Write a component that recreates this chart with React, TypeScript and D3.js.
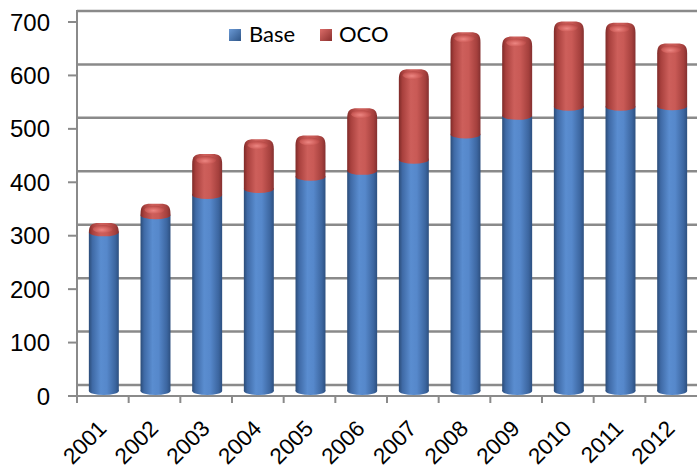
import React from "react";
import * as d3 from "d3";

// Fiscal years and budget authority (billions of dollars)
const years = ["2001", "2002", "2003", "2004", "2005", "2006", "2007", "2008", "2009", "2010", "2011", "2012"];
const baseValues = [297, 329, 367, 378, 401, 412, 433, 480, 515, 532, 532, 533];
const ocoValues = [8, 12, 67, 84, 68, 108, 160, 182, 139, 150, 148, 108];
const yTicks = [0, 100, 200, 300, 400, 500, 600, 700];
const seriesNames = ["Base", "OCO"];

const W = 697;
const H = 470;

// 3D look: back wall, bar depth and front axis are shifted vertically
const BAR_SHIFT = 6;
const FRONT_SHIFT = 11;

const x = d3.scaleBand<string>().domain(years).range([77, 697]).padding(0);
const yBack = d3.scaleLinear().domain([0, 700]).range([385, 11]);
const yBar = (v: number) => yBack(v) + BAR_SHIFT;
const yFront = (v: number) => yBack(v) + FRONT_SHIFT;

const BAR_FRAC = 0.58;
const RY = 4;

const GRID = "#8a8a8a";

// rounded (domed) top of a cylinder segment
function capPath(x0: number, x1: number, yTop: number, yBottom: number) {
  const r = 10;
  return [
    `M${x0},${yBottom}`,
    `L${x0},${yTop + 5}`,
    `C${x0},${yTop - RY + 1} ${x0 + 3},${yTop - RY - 1} ${x0 + r},${yTop - RY - 1}`,
    `L${x1 - r},${yTop - RY - 1}`,
    `C${x1 - 3},${yTop - RY - 1} ${x1},${yTop - RY + 1} ${x1},${yTop + 5}`,
    `L${x1},${yBottom}`,
    "Z",
  ].join(" ");
}

export default function App() {
  const bw = x.bandwidth() * BAR_FRAC;
  const rows = years.map((yr, i) => {
    const cx = (x(yr) as number) + x.bandwidth() / 2 + 1;
    return { yr, cx, base: baseValues[i], total: baseValues[i] + ocoValues[i] };
  });

  return (
    <svg
      width={W}
      height={H}
      style={{ position: "absolute", left: 0, top: 0, background: "#fff" }}
      fontFamily="'Liberation Sans', Arial, sans-serif"
    >
      <defs>
        <linearGradient id="gBlue" x1="0" x2="1" y1="0" y2="0">
          <stop offset="0" stopColor="#2b4c78" />
          <stop offset="0.12" stopColor="#3f6aa6" />
          <stop offset="0.4" stopColor="#5a8dd0" />
          <stop offset="0.6" stopColor="#5688cb" />
          <stop offset="0.88" stopColor="#3c66a0" />
          <stop offset="1" stopColor="#2d5080" />
        </linearGradient>
        <linearGradient id="gRed" x1="0" x2="1" y1="0" y2="0">
          <stop offset="0" stopColor="#7e2a28" />
          <stop offset="0.12" stopColor="#a8403d" />
          <stop offset="0.4" stopColor="#cd5f5b" />
          <stop offset="0.6" stopColor="#c95a56" />
          <stop offset="0.88" stopColor="#a5403d" />
          <stop offset="1" stopColor="#843030" />
        </linearGradient>
        <radialGradient id="gRedTop" cx="0.45" cy="0.6" r="0.6">
          <stop offset="0" stopColor="#f08a86" />
          <stop offset="0.6" stopColor="#d2625e" />
          <stop offset="1" stopColor="#b54744" />
        </radialGradient>
        <linearGradient id="gLegBlue" x1="0" x2="1" y1="0" y2="1">
          <stop offset="0" stopColor="#6b9ad6" />
          <stop offset="1" stopColor="#2f5587" />
        </linearGradient>
        <linearGradient id="gLegRed" x1="0" x2="1" y1="0" y2="1">
          <stop offset="0" stopColor="#dc6d69" />
          <stop offset="1" stopColor="#8a2f2d" />
        </linearGradient>
      </defs>

      {/* back wall gridlines */}
      {yTicks.map((t) => (
        <line key={"g" + t} x1={77} x2={W} y1={yBack(t)} y2={yBack(t)} stroke={GRID} strokeWidth={2.5} />
      ))}

      {/* left axis line */}
      <line x1={77} x2={77} y1={yBack(700) - 1} y2={yFront(0)} stroke={GRID} strokeWidth={2} />
      {/* front floor edge */}
      <line x1={74} x2={W} y1={yFront(0)} y2={yFront(0)} stroke={GRID} strokeWidth={2} />

      {/* y ticks and labels */}
      {yTicks.map((t) => (
        <g key={"t" + t}>
          <line x1={68} x2={77} y1={yFront(t)} y2={yFront(t)} stroke={GRID} strokeWidth={2} />
          <text x={50} y={yFront(t)} dy="0.36em" textAnchor="end" fontSize={24} fill="#000">
            {t}
          </text>
        </g>
      ))}

      {/* x ticks at category boundaries */}
      {years.map((yr) => (
        <line
          key={"xt" + yr}
          x1={x(yr) as number}
          x2={x(yr) as number}
          y1={yFront(0)}
          y2={yFront(0) + 7}
          stroke={GRID}
          strokeWidth={2}
        />
      ))}

      {/* cylinders */}
      {rows.map((r) => {
        const x0 = r.cx - bw / 2;
        const x1 = r.cx + bw / 2;
        const y0 = yBar(0);
        const yb = yBar(r.base);
        const yt = yBar(r.total);
        return (
          <g key={"b" + r.yr}>
            <rect x={x0} y={yb} width={bw} height={y0 - yb} fill="url(#gBlue)" />
            <ellipse cx={r.cx} cy={y0} rx={bw / 2} ry={RY} fill="url(#gBlue)" />
            <ellipse cx={r.cx} cy={yb} rx={bw / 2} ry={RY} fill="url(#gRed)" />
            <path d={capPath(x0, x1, yt, yb)} fill="url(#gRed)" />
            <ellipse cx={r.cx - 1} cy={yt + 1} rx={bw / 2 - 5} ry={RY} fill="url(#gRedTop)" opacity={0.9} />
          </g>
        );
      })}

      {/* x labels */}
      {rows.map((r) => (
        <text
          key={"xl" + r.yr}
          transform={`translate(${r.cx + 4},${430}) rotate(-45)`}
          textAnchor="end"
          fontSize={22.5}
          fill="#000"
        >
          {r.yr}
        </text>
      ))}

      {/* legend */}
      <g fontFamily="Lato, 'Open Sans', sans-serif" fontSize={22}>
        <rect x={229} y={29} width={12} height={12} fill="url(#gLegBlue)" />
        <text x={249} y={42} fill="#000">
          {seriesNames[0]}
        </text>
        <rect x={320} y={29} width={12} height={12} fill="url(#gLegRed)" />
        <text x={339} y={42} fill="#000">
          {seriesNames[1]}
        </text>
      </g>
    </svg>
  );
}
